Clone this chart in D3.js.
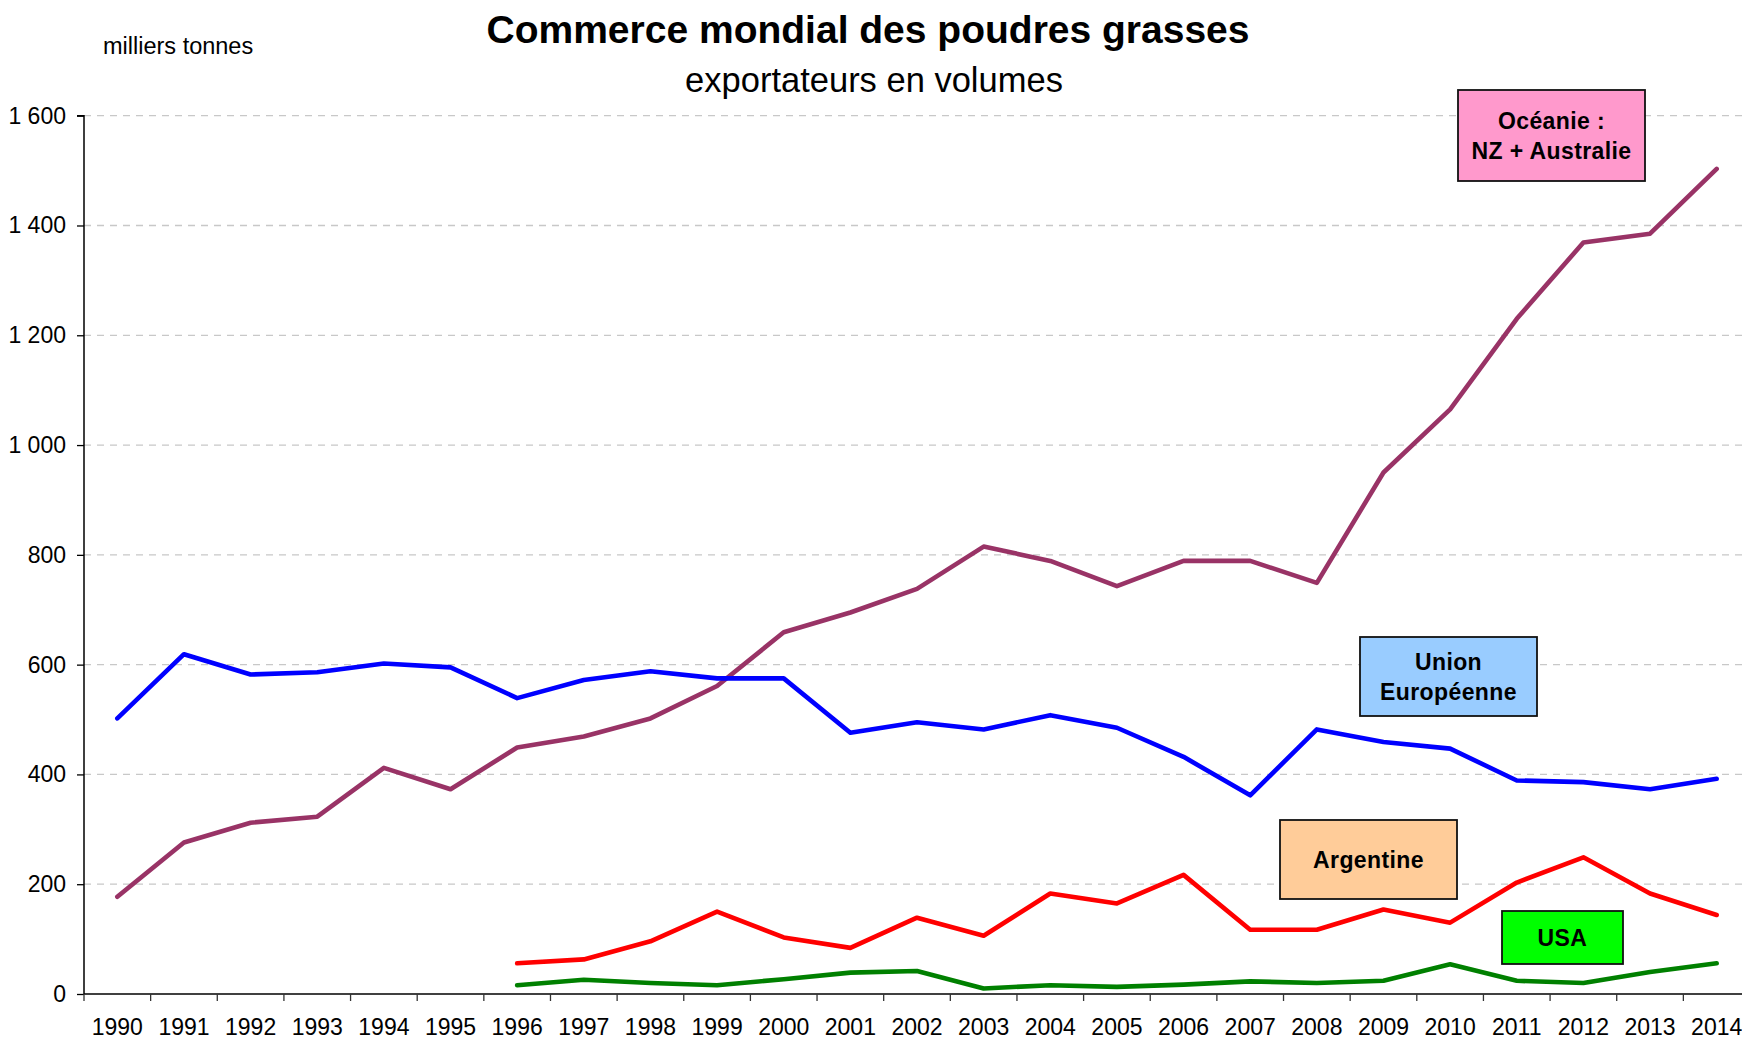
<!DOCTYPE html>
<html>
<head>
<meta charset="utf-8">
<script src="https://cdn.jsdelivr.net/npm/d3@7"></script>
<style>
  html, body { margin: 0; padding: 0; background: #fff; }
  svg { display: block; font-family: "Liberation Sans", Arial, sans-serif; }
</style>
</head>
<body>
<svg id="chart" width="1742" height="1040"></svg>
<script>
// ---- data ----
const years = ["1990","1991","1992","1993","1994","1995","1996","1997","1998","1999","2000","2001","2002","2003","2004","2005","2006","2007","2008","2009","2010","2011","2012","2013","2014"];
const oceanie   = [177, 276, 312, 323, 412, 373, 449, 469, 502, 561, 659, 695, 738, 815, 789, 743, 789, 789, 749, 950, 1065, 1230, 1369, 1385, 1503];
const unionEuro = [502, 619, 582, 586, 602, 595, 539, 572, 588, 575, 575, 476, 495, 482, 508, 485, 432, 362, 482, 459, 447, 389, 386, 373, 392];
const argentine = [null, null, null, null, null, null, 56, 63, 96, 150, 103, 84, 139, 106, 183, 165, 217, 117, 117, 154, 130, 203, 249, 183, 144];
const usa       = [null, null, null, null, null, null, 16, 26, 20, 16, 27, 39, 42, 10, 16, 13, 17, 23, 20, 24, 54, 24, 20, 40, 56];
const yTicks = [0, 200, 400, 600, 800, 1000, 1200, 1400, 1600];

const seriesList = [
  { name: "Océanie", values: oceanie, color: "#993366" },
  { name: "Union Européenne", values: unionEuro, color: "#0000FF" },
  { name: "Argentine", values: argentine, color: "#FF0000" },
  { name: "USA", values: usa, color: "#008000" }
];

// ---- annotation boxes (layout) ----
const boxes = [
  { lines: ["Océanie :", "NZ + Australie"], x: 1458, y: 90, w: 187, h: 91, fill: "#FF99CC" },
  { lines: ["Union", "Européenne"], x: 1360, y: 637, w: 177, h: 79, fill: "#99CCFF" },
  { lines: ["Argentine"], x: 1280, y: 820, w: 177, h: 79, fill: "#FFCC99" },
  { lines: ["USA"], x: 1502, y: 911, w: 121, h: 53, fill: "#00FF00" }
];

(function draw() {
const svg = d3.select("#chart");
const W = 1742;
const pLeft = 84, pRight = 1750, pTop = 115.7, pBottom = 994;

const x = d3.scaleBand().domain(years).range([pLeft, pRight]).padding(0);
const y = d3.scaleLinear().domain([0, 1600]).range([pBottom, pTop]);
const fmt = d3.formatLocale({ decimal: ",", thousands: "\u00a0", grouping: [3], currency: ["", "€"] }).format(",d");

// gridlines
svg.append("g")
  .selectAll("line")
  .data(yTicks.filter(d => d > 0))
  .join("line")
  .attr("x1", pLeft).attr("x2", W)
  .attr("y1", d => y(d)).attr("y2", d => y(d))
  .attr("stroke", "#c8c8c8").attr("stroke-width", 1.3)
  .attr("stroke-dasharray", "7,6");

// y axis
const yAxis = d3.axisLeft(y).tickValues(yTicks).tickSize(7).tickPadding(11).tickFormat(fmt);
const gy = svg.append("g").attr("transform", `translate(${pLeft},0)`).call(yAxis);
gy.select(".domain").attr("stroke", "#000").attr("stroke-width", 1.5).attr("d", `M-7,${pTop}H0V${pBottom}`);
gy.selectAll(".tick line").attr("stroke", "#000").attr("stroke-width", 1.3);
gy.selectAll(".tick text").attr("font-size", 23).attr("fill", "#000").attr("font-family", "Liberation Sans, Arial, sans-serif");

// x axis
const xAxis = d3.axisBottom(x).tickSize(0).tickPadding(25);
const gx = svg.append("g").attr("transform", `translate(0,${pBottom})`).call(xAxis);
gx.select(".domain").attr("stroke", "#000").attr("stroke-width", 1.5).attr("d", `M${pLeft},0H${W}`);
gx.selectAll(".tick text").attr("font-size", 23).attr("fill", "#000").attr("font-family", "Liberation Sans, Arial, sans-serif");
// boundary ticks
svg.append("g")
  .selectAll("line")
  .data(years)
  .join("line")
  .attr("x1", d => x(d)).attr("x2", d => x(d))
  .attr("y1", pBottom).attr("y2", pBottom + 7)
  .attr("stroke", "#333").attr("stroke-width", 1.3);

// lines
const line = d3.line()
  .defined(d => d.v !== null)
  .x(d => x(d.year) + x.bandwidth() / 2)
  .y(d => y(d.v));

svg.append("g")
  .selectAll("path")
  .data(seriesList)
  .join("path")
  .attr("d", s => line(years.map((yr, i) => ({ year: yr, v: s.values[i] }))))
  .attr("fill", "none")
  .attr("stroke", s => s.color)
  .attr("stroke-width", 4.6)
  .attr("stroke-linejoin", "round")
  .attr("stroke-linecap", "round");

// annotation boxes
const bg = svg.append("g").selectAll("g").data(boxes).join("g");
bg.append("rect")
  .attr("x", d => d.x).attr("y", d => d.y)
  .attr("width", d => d.w).attr("height", d => d.h)
  .attr("fill", d => d.fill).attr("stroke", "#111").attr("stroke-width", 1.8);
bg.each(function(d) {
  const g = d3.select(this);
  const n = d.lines.length;
  const lh = 30;
  d.lines.forEach((t, i) => {
    g.append("text")
      .attr("x", d.x + d.w / 2)
      .attr("y", d.y + d.h / 2 + (i - (n - 1) / 2) * lh)
      .attr("text-anchor", "middle")
      .attr("dominant-baseline", "central")
      .attr("font-size", 23)
      .attr("font-weight", "bold")
      .attr("letter-spacing", 0.4)
      .attr("fill", "#000")
      .text(t);
  });
});

// titles
svg.append("text")
  .attr("x", 868).attr("y", 43)
  .attr("text-anchor", "middle")
  .attr("font-size", 39).attr("font-weight", "bold")
  .text("Commerce mondial des poudres grasses");
svg.append("text")
  .attr("x", 874).attr("y", 92)
  .attr("text-anchor", "middle")
  .attr("font-size", 34.5)
  .text("exportateurs en volumes");
svg.append("text")
  .attr("x", 103).attr("y", 54)
  .attr("font-size", 23.5)
  .text("milliers tonnes");
})();
</script>
</body>
</html>
